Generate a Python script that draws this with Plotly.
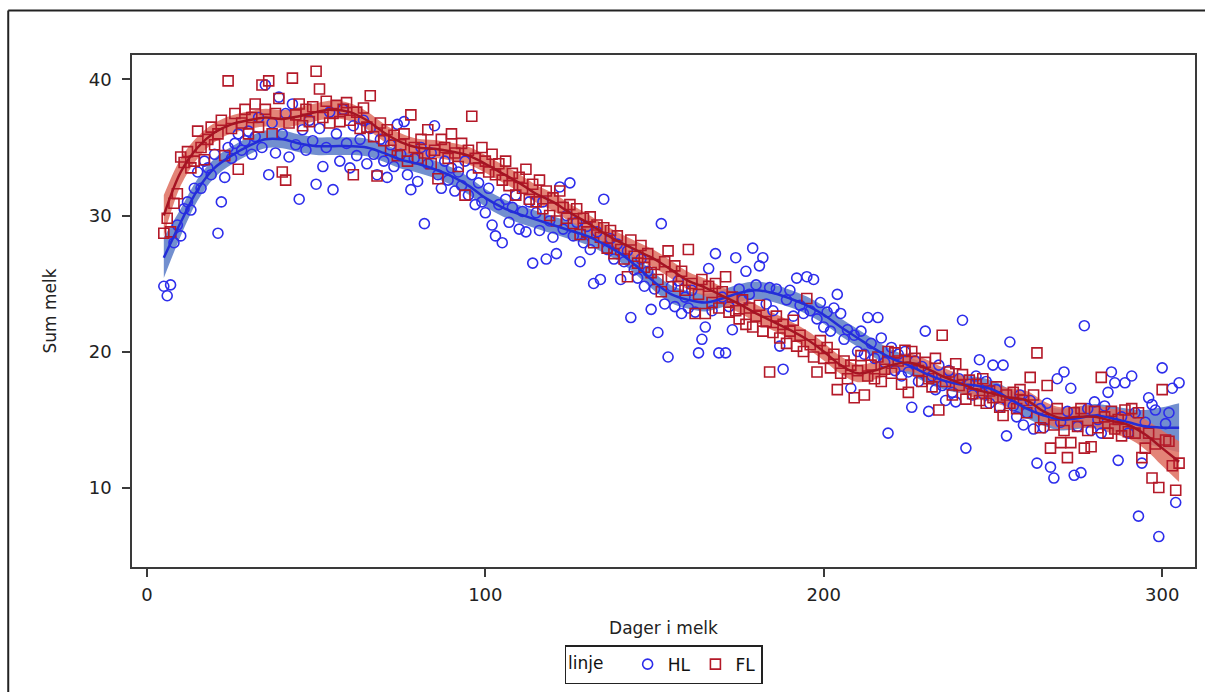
import plotly.graph_objects as go

# ---------------- data ----------------
days = list(range(5, 306))

hl_values = [
    24.8, 24.1, 24.9, 28.0, 29.3, 28.5, 30.5, 31.0, 30.4, 32.0,
    33.2, 32.0, 34.0, 33.5, 33.0, 34.5, 28.7, 31.0, 32.8, 35.0,
    34.2, 35.3, 36.0, 34.8, 35.5, 36.2, 34.5, 35.8, 37.2, 35.0,
    39.6, 33.0, 36.8, 34.6, 38.7, 36.0, 37.5, 34.3, 38.2, 35.2,
    31.2, 36.3, 34.8, 37.0, 35.5, 32.3, 36.4, 33.6, 35.0, 37.6,
    31.9, 36.0, 34.0, 37.8, 35.3, 33.5, 36.6, 34.4, 35.6, 37.0,
    33.8, 36.4, 34.5, 33.0, 35.6, 34.0, 32.8, 35.2, 33.6, 36.7,
    34.5, 36.9, 33.0, 31.9, 34.2, 32.5, 35.0, 29.4, 33.8, 34.6,
    36.6, 33.0, 32.0, 34.0, 32.6, 33.5, 31.8, 33.2, 32.2, 34.0,
    31.5, 33.0, 30.8, 32.4, 31.0, 30.2, 32.0, 29.3, 28.5, 30.8,
    28.0, 31.2, 29.5, 30.6, 31.5, 29.0, 30.3, 28.8, 31.0, 26.5,
    30.2, 28.9, 31.0, 26.8, 29.6, 28.4, 27.2, 32.1, 29.0, 30.0,
    32.4, 28.5, 29.5, 26.6, 28.0, 29.2, 27.5, 25.0, 28.8, 25.3,
    31.2, 27.5, 28.3, 26.8, 27.9, 25.3, 26.6, 27.4, 22.5, 26.0,
    25.4, 26.8, 24.8, 25.9, 23.1, 24.6, 21.4, 29.4, 23.5, 19.6,
    24.8, 23.3, 25.2, 22.8, 24.0, 23.2, 24.5, 22.9, 19.9, 20.9,
    21.8, 26.1, 23.0, 27.2, 19.9, 24.0, 19.9, 23.3, 21.6, 26.9,
    24.6, 23.8, 25.9, 24.2, 27.6, 24.9, 26.3, 26.9, 23.5, 24.7,
    23.0, 24.6, 20.4, 18.7, 23.8, 24.5, 22.6, 25.4, 23.4, 22.8,
    25.5, 23.0, 25.3, 22.4, 23.6, 21.8, 22.9, 21.5, 23.2, 24.2,
    22.8, 20.9, 21.6, 17.3, 21.2, 20.0, 21.5, 19.8, 22.5, 20.6,
    19.5, 22.5, 21.0, 19.2, 14.0, 20.3, 18.6, 19.8, 18.2, 20.0,
    18.5, 15.9, 19.3, 17.8, 18.9, 21.5, 15.6, 18.2, 17.2, 19.0,
    17.5, 16.4, 18.6, 17.0, 16.3, 18.0, 22.3, 12.9, 17.6, 16.8,
    18.2, 19.4, 16.9, 17.8, 16.2, 19.0, 17.2, 15.9, 19.0, 13.8,
    20.7, 16.0, 15.2, 16.8, 14.6, 15.5, 16.4, 14.3, 11.8, 15.8,
    14.4, 16.2, 11.5, 10.7, 18.0, 14.8, 18.5, 15.6, 17.3, 10.9,
    14.5, 11.1, 21.9, 15.8, 14.2, 16.3, 15.0, 14.0, 16.0, 17.0,
    18.5, 17.7, 12.0, 15.2, 17.7, 14.0, 18.2, 15.5, 7.9, 11.8,
    14.8, 16.6, 16.1, 15.7, 6.4, 18.8, 14.7, 15.5, 17.3, 8.9, 17.7,
]

fl_values = [
    28.7, 29.8, 28.8, 30.9, 31.6, 34.3, 33.9, 34.7, 33.5, 34.0,
    36.2, 35.0, 34.1, 35.6, 36.5, 35.2, 36.0, 37.0, 34.4, 39.9,
    36.4, 37.5, 33.4, 36.8, 37.8, 36.0, 37.2, 38.2, 36.5, 39.6,
    37.8, 39.9, 36.0, 37.5, 38.6, 33.2, 32.6, 36.8, 40.1, 37.4,
    38.2, 36.6, 37.8, 36.9, 38.0, 40.6, 39.3, 37.2, 38.4, 36.8,
    37.5, 38.1, 36.9, 37.8, 38.3, 37.0, 33.0, 37.6, 36.4, 37.9,
    36.5, 38.8, 35.8, 32.9, 36.8, 35.5, 36.3, 34.8, 35.9, 34.4,
    35.2, 36.0, 34.0, 37.4, 35.0, 34.2, 35.6, 34.6, 36.3, 33.8,
    34.8, 32.7, 35.6, 35.0, 34.2, 36.0, 34.6, 33.6, 35.3, 31.5,
    34.8, 37.3, 34.2, 33.5, 35.0, 34.0, 33.2, 34.5, 33.0, 33.8,
    32.6, 34.0, 32.2, 33.1, 31.5, 32.8, 32.0, 33.4, 31.2, 32.3,
    31.0, 32.6, 30.5, 31.8, 30.0, 31.3, 29.6, 31.8, 30.6, 29.8,
    30.8, 29.4, 30.5, 28.6, 29.8, 28.8, 29.9, 28.0, 29.3, 28.4,
    29.1, 27.6, 28.9, 27.2, 28.5, 27.5, 26.8, 25.5, 28.2, 27.0,
    26.5, 27.8, 26.2, 27.2, 25.8, 26.4, 25.3, 24.4, 26.6, 27.4,
    25.5, 26.3, 24.8, 25.9, 24.5, 27.5, 25.0, 22.8, 24.2, 25.3,
    22.8, 24.8, 23.6, 25.0, 23.2, 24.4, 25.5, 22.9, 24.0, 23.0,
    22.4, 23.8, 22.0, 23.2, 21.8, 22.6, 23.4, 21.5, 22.2, 18.5,
    21.4, 22.6, 21.0, 22.0, 20.6, 21.5, 22.3, 20.4, 21.2, 20.0,
    23.9, 20.5, 19.6, 18.5, 20.8, 19.5, 20.3, 18.8, 19.8, 17.2,
    18.4, 19.3, 18.0, 19.0, 16.6, 18.6, 19.7, 16.8, 18.2, 19.0,
    18.0, 19.6, 17.8, 18.7, 20.0, 18.4, 19.9, 19.3, 17.6, 20.1,
    17.0, 20.0, 19.5, 18.6, 17.8, 19.2, 18.0, 17.4, 19.5, 15.7,
    21.2, 17.8, 18.5, 16.8, 19.1, 17.5, 18.3, 16.5, 17.9, 16.9,
    17.6, 16.4, 18.0, 16.2, 17.1, 16.6, 17.4, 15.9, 15.3, 16.8,
    16.2, 17.0, 15.8, 17.2, 16.4, 15.5, 18.1, 16.8, 19.9, 14.4,
    15.0, 17.5, 12.9, 14.6, 15.8, 13.3, 14.2, 12.2, 13.3, 15.5,
    14.5, 15.8, 12.9, 14.2, 13.0, 15.6, 14.4, 18.1, 15.2, 14.0,
    15.6, 14.3, 15.0, 13.8, 15.7, 14.1, 15.8, 14.0, 15.5, 12.2,
    12.9, 14.0, 10.7, 13.2, 10.0, 17.2, 13.5, 13.4, 11.6, 9.8, 11.8,
]

fit_days = list(range(5, 306, 5))

hl_fit = [
    26.9, 29.5, 31.9, 33.5, 34.4, 35.1, 35.6, 35.6, 35.3, 35.1,
    35.1, 35.1, 35.0, 34.6, 34.1, 33.8, 33.4, 32.9, 32.2, 31.3,
    30.6, 30.1, 29.7, 29.3, 28.9, 28.5, 27.9, 27.2, 26.2, 25.1,
    24.2, 23.8, 23.6, 23.9, 24.3, 24.5, 24.3, 23.9, 23.4, 22.7,
    21.8, 21.0, 20.2, 19.5, 19.0, 18.4, 17.9, 17.6, 17.5, 17.2,
    16.5, 15.8, 15.3, 15.0, 15.1, 15.3, 15.1, 14.8, 14.5, 14.4, 14.4,
]
hl_half = [
    1.5, 1.0, 0.8, 0.7, 0.65, 0.65, 0.65, 0.65, 0.65, 0.65,
    0.65, 0.65, 0.65, 0.65, 0.65, 0.65, 0.65, 0.65, 0.65, 0.65,
    0.65, 0.65, 0.65, 0.65, 0.65, 0.65, 0.65, 0.65, 0.65, 0.65,
    0.65, 0.65, 0.65, 0.65, 0.65, 0.65, 0.65, 0.65, 0.65, 0.65,
    0.65, 0.65, 0.65, 0.65, 0.65, 0.65, 0.65, 0.65, 0.65, 0.65,
    0.7, 0.7, 0.75, 0.8, 0.8, 0.85, 0.9, 1.0, 1.2, 1.5, 1.8,
]

fl_fit = [
    30.0, 33.2, 35.0, 36.1, 36.7, 37.0, 37.2, 37.1, 37.3, 37.6,
    37.8, 37.6, 37.0, 36.1, 35.4, 35.0, 34.9, 34.7, 34.4, 33.8,
    33.1, 32.4, 31.6, 31.0, 30.2, 29.5, 28.7, 28.0, 27.4, 26.8,
    26.0, 25.2, 24.7, 24.1, 23.5, 22.8, 22.2, 21.6, 20.9, 20.0,
    19.0, 18.4, 18.6, 19.0, 19.2, 18.8, 18.2, 17.7, 17.2, 16.9,
    16.6, 16.4, 15.6, 15.1, 15.2, 15.2, 14.9, 14.6, 13.9, 12.9, 11.9,
]
fl_half = [
    1.5, 1.0, 0.8, 0.7, 0.65, 0.65, 0.65, 0.65, 0.65, 0.65,
    0.65, 0.65, 0.65, 0.65, 0.65, 0.65, 0.65, 0.65, 0.65, 0.65,
    0.65, 0.65, 0.65, 0.65, 0.65, 0.65, 0.65, 0.65, 0.65, 0.65,
    0.65, 0.65, 0.65, 0.65, 0.65, 0.65, 0.65, 0.65, 0.65, 0.65,
    0.65, 0.65, 0.65, 0.65, 0.65, 0.65, 0.65, 0.65, 0.65, 0.65,
    0.7, 0.7, 0.75, 0.8, 0.8, 0.85, 0.9, 1.0, 1.1, 1.3, 1.5,
]

x_ticks = [0, 100, 200, 300]
y_ticks = [10, 20, 30, 40]

# ---------------- styles ----------------
BLUE_MK = "rgb(45,45,235)"
BLUE_LN = "rgb(35,45,215)"
BLUE_BAND = "rgba(95,128,200,0.88)"
RED_MK = "rgb(180,25,40)"
RED_LN = "rgb(165,20,35)"
RED_BAND = "rgba(222,110,95,0.85)"
FONT = "DejaVu Sans, Liberation Sans, Arial"

fig = go.Figure()

def band(xs, fit, half, color):
    up = [f + h for f, h in zip(fit, half)]
    lo = [f - h for f, h in zip(fit, half)]
    fig.add_trace(go.Scatter(x=xs, y=up, mode="lines", line=dict(width=0, shape="spline"),
                             showlegend=False, hoverinfo="skip"))
    fig.add_trace(go.Scatter(x=xs, y=lo, mode="lines", line=dict(width=0, shape="spline"),
                             fill="tonexty", fillcolor=color, showlegend=False, hoverinfo="skip"))

band(fit_days, hl_fit, hl_half, BLUE_BAND)
band(fit_days, fl_fit, fl_half, RED_BAND)

fig.add_trace(go.Scatter(x=days, y=hl_values, mode="markers", name="HL",
                         marker=dict(symbol="circle-open", size=10, color=BLUE_MK,
                                     line=dict(width=1.6, color=BLUE_MK))))
fig.add_trace(go.Scatter(x=days, y=fl_values, mode="markers", name="FL",
                         marker=dict(symbol="square-open", size=10, color=RED_MK,
                                     line=dict(width=1.6, color=RED_MK))))

fig.add_trace(go.Scatter(x=fit_days, y=hl_fit, mode="lines", showlegend=False,
                         line=dict(color=BLUE_LN, width=2.5, shape="spline")))
fig.add_trace(go.Scatter(x=fit_days, y=fl_fit, mode="lines", showlegend=False,
                         line=dict(color=RED_LN, width=2.5, shape="spline")))

W, H = 1205, 692
L, R, T, B = 132, 1197, 55, 573
pw, ph = R - L, B - T

axis_common = dict(showgrid=False, zeroline=False, showline=True, mirror=True,
                   linecolor="#3a3a3a", linewidth=1.5, ticks="outside", ticklen=8,
                   tickwidth=1.5, tickcolor="#3a3a3a",
                   tickfont=dict(family=FONT, size=18, color="#222"))

fig.update_layout(
    width=W, height=H,
    margin=dict(l=L, r=W - R, t=T, b=H - B, pad=0),
    paper_bgcolor="white", plot_bgcolor="white",
    xaxis=dict(range=[-4.4, 309.7], tickvals=x_ticks, ticklabelstandoff=3, **axis_common,
               title=dict(text="Dager i melk", standoff=18,
                          font=dict(family=FONT, size=17, color="#222"))),
    yaxis=dict(range=[4.16, 41.8], tickvals=y_ticks, ticklabelstandoff=7, **axis_common,
               title=dict(text="Sum melk", standoff=28,
                          font=dict(family=FONT, size=17, color="#222"))),
    legend=dict(orientation="h", x=0.5, xanchor="center", y=(B - 652) / ph, yanchor="top",
                bordercolor="#222", borderwidth=1.5, bgcolor="white", traceorder="normal",
                font=dict(family=FONT, size=17, color="#111"),
                title=dict(text="linje   ", font=dict(family=FONT, size=17)),
                itemwidth=30, tracegroupgap=0),
    showlegend=True,
)

# outer frame (left and top edges visible)
ox = (8 - L) / pw
oy = 1 + (T - 10) / ph
fig.add_shape(type="line", xref="paper", yref="paper", x0=ox, x1=ox, y0=-0.5, y1=oy,
              line=dict(color="#222", width=2))
fig.add_shape(type="line", xref="paper", yref="paper", x0=ox, x1=1.5, y0=oy, y1=oy,
              line=dict(color="#222", width=2))

fig.write_html("out.html")
